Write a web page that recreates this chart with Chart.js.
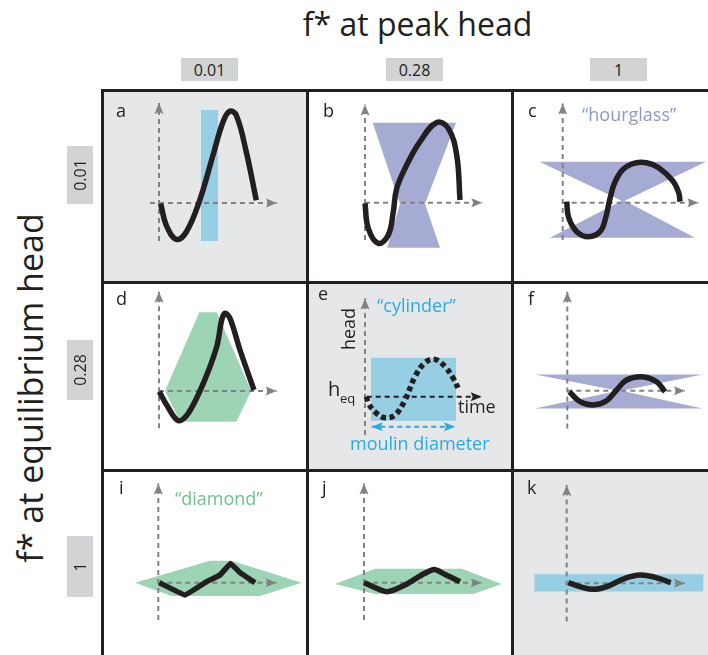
<!DOCTYPE html>
<html>
<head>
<meta charset="utf-8">
<script src="https://cdn.jsdelivr.net/npm/chart.js@4.4.1/dist/chart.umd.min.js"></script>
<style>
html, body { margin: 0; padding: 0; background: #fff; }
body { width: 708px; height: 655px; position: relative; overflow: hidden; font-family: 'Open Sans', sans-serif; color: #231f20; }
.txt { position: absolute; white-space: nowrap; line-height: 1; }
.box { position: absolute; background: #d1d3d4; display: flex; align-items: center; justify-content: center; font-size: 16px; }
.cell { position: absolute; }
.rule { position: absolute; background: #231f20; }
canvas { position: absolute; left: 0; top: 0; }
</style>
</head>
<body>
<script>
// headings
const peakHeadLevels = ['0.01', '0.28', '1'];
const eqHeadLevels = ['0.01', '0.28', '1'];

// head curves: time along x, head along y (origin where the axes cross, 1 unit = 100 px)
const timeA = [0.017, 0.073, 0.173, 0.273, 0.407, 0.54, 0.64, 0.707, 0.773, 0.873, 0.973];
const headA = [-0.007, -0.223, -0.363, -0.29, 0.027, 0.477, 0.81, 0.917, 0.877, 0.51, 0.027];
const timeB = [0, 0.033, 0.133, 0.233, 0.283, 0.317, 0.417, 0.55, 0.717, 0.833, 0.917, 0.95];
const headB = [-0.007, -0.257, -0.407, -0.323, -0.09, 0.143, 0.377, 0.61, 0.803, 0.743, 0.477, 0.027];
const timeC = [0.04, 0.06, 0.14, 0.257, 0.373, 0.43, 0.47, 0.52, 0.6, 0.72, 0.84, 0.96, 1.1, 1.16, 1.173];
const headC = [0.01, -0.15, -0.29, -0.34, -0.29, -0.15, 0.03, 0.2, 0.33, 0.395, 0.4, 0.35, 0.22, 0.1, 0.01];
const timeD = [0.003, 0.077, 0.193, 0.293, 0.443, 0.577, 0.627, 0.66, 0.71, 0.81, 0.95];
const headD = [-0.007, -0.14, -0.297, -0.223, 0.077, 0.443, 0.71, 0.777, 0.727, 0.41, 0.01];
const timeE = [0.017, 0.033, 0.117, 0.2, 0.3, 0.4, 0.5, 0.6, 0.7, 0.8, 0.883, 0.94];
const headE = [0, -0.067, -0.167, -0.21, -0.183, -0.033, 0.2, 0.34, 0.373, 0.3, 0.183, 0.067];
const timeF = [0.02, 0.127, 0.26, 0.393, 0.493, 0.593, 0.743, 0.893, 0.977];
const headF = [-0.01, -0.11, -0.143, -0.1, 0.007, 0.107, 0.14, 0.09, -0.01];
const timeI = [0.01, 0.267, 0.483, 0.617, 0.723, 0.817, 0.967];
const headI = [0, -0.123, 0.01, 0.077, 0.193, 0.1, 0];
const timeJ = [0, 0.227, 0.41, 0.577, 0.703, 0.81, 0.96];
const headJ = [0, -0.09, -0.023, 0.077, 0.133, 0.083, 0.01];
const timeK = [0.017, 0.133, 0.267, 0.4, 0.583, 0.733, 0.883, 1.04];
const headK = [0.007, -0.033, -0.06, -0.033, 0.05, 0.083, 0.06, 0.007];

// moulin wall profiles: [head, left wall, right wall]
const wallA = [[0.93, 0.42, 0.59], [-0.38, 0.42, 0.59]];
const wallB = [[0.80, 0.077, 0.91], [-0.01, 0.35, 0.60], [-0.45, 0.223, 0.75]];
const wallC = [[0.41, -0.233, 1.433], [0.02, 0.59, 0.62], [-0.35, -0.127, 1.323]];
const wallD = [[0.787, 0.403, 0.577], [0, 0.06, 0.923], [-0.307, 0.21, 0.773]];
const wallE = [[0.39, 0.06, 0.91], [-0.24, 0.06, 0.91]];
const wallF = [[0.163, -0.323, 1.353], [0, 0.51, 0.54], [-0.177, -0.323, 1.353]];
const wallI = [[0.22, 0.517, 0.733], [0, -0.233, 1.433], [-0.133, 0.133, 1.017]];
const wallJ = [[0.14, 0.11, 0.977], [-0.013, -0.29, 1.377], [-0.113, 0.11, 1.093]];
const wallK = [[0.09, -0.323, 1.367], [-0.083, -0.323, 1.367]];

// moulin diameter arrow in panel e (head, from, to)
const diameterE = [-0.3, 0.067, 0.9];

// colours
const INK = '#231f20';
const AXIS = '#808285';
const PANEL_GRAY = '#e6e7e8';
const CYL = '#96cee4';
const HOUR = '#a5abd2';
const DIAM = '#9dd4b4';
const CYL_TEXT = '#29abe2';
const HOUR_TEXT = '#8f96c8';
const DIAM_TEXT = '#6cc08f';

// grid
const colX = [102, 307, 512, 708];
const rowY = [90, 282, 470, 655];

const panels = [
  { key: 'a', col: 0, row: 0, bg: PANEL_GRAY, ox: 57, oy: 113, time: timeA, head: headA, wall: wallA, fill: CYL, v: [-0.38, 1.0], h: [-0.09, 1.18], lab: [14, 27], tension: 0.4 },
  { key: 'b', col: 1, row: 0, bg: '#fff', ox: 58, oy: 112.7, time: timeB, head: headB, wall: wallB, fill: HOUR, v: [-0.373, 0.983], h: [0, 1.173], lab: [16, 27], tension: 0.4 },
  { key: 'c', col: 2, row: 0, bg: '#fff', ox: 50.7, oy: 112.7, time: timeC, head: headC, wall: wallC, fill: HOUR, v: [-0.373, 0.993], h: [0, 1.357], lab: [16, 27], tension: 0.4 },
  { key: 'd', col: 0, row: 1, bg: '#fff', ox: 57, oy: 109, time: timeD, head: headD, wall: wallD, fill: DIAM, v: [-0.373, 0.993], h: [0, 1.177], lab: [14, 23], tension: 0.35 },
  { key: 'e', col: 1, row: 1, bg: PANEL_GRAY, ox: 58, oy: 114.7, time: timeE, head: headE, wall: wallE, fill: CYL, v: [-0.383, 0.983], h: [0.017, 1.167], lab: [11, 17.5], tension: 0.4, dotted: true },
  { key: 'f', col: 2, row: 1, bg: '#fff', ox: 55.3, oy: 108.7, time: timeF, head: headF, wall: wallF, fill: HOUR, v: [-0.377, 0.99], h: [0, 1.177], lab: [16, 23], tension: 0.4 },
  { key: 'i', col: 0, row: 2, bg: '#fff', ox: 56.3, oy: 112.7, time: timeI, head: headI, wall: wallI, fill: DIAM, v: [-0.373, 0.993], h: [0, 1.183], lab: [17, 24], tension: 0.05 },
  { key: 'j', col: 1, row: 2, bg: '#fff', ox: 57, oy: 112.7, time: timeJ, head: headJ, wall: wallJ, fill: DIAM, v: [-0.373, 0.993], h: [0, 1.177], lab: [15, 24], tension: 0.25 },
  { key: 'k', col: 2, row: 2, bg: PANEL_GRAY, ox: 54.7, oy: 113.3, time: timeK, head: headK, wall: wallK, fill: CYL, v: [-0.383, 0.983], h: [0, 1.183], lab: [15, 24], tension: 0.4 }
];

// arrow heads on the ends of dashed axis lines
const arrowHeads = {
  id: 'arrowHeads',
  afterDatasetsDraw(chart) {
    const ctx = chart.ctx;
    chart.data.datasets.forEach((ds, i) => {
      if (!ds.arrow) return;
      const pts = chart.getDatasetMeta(i).data;
      const draw = (tip, from) => {
        const ang = Math.atan2(tip.y - from.y, tip.x - from.x);
        ctx.save();
        ctx.translate(tip.x, tip.y);
        ctx.rotate(ang);
        ctx.beginPath();
        ctx.moveTo(0, 0);
        ctx.lineTo(-11, -4.5);
        ctx.lineTo(-9, 0);
        ctx.lineTo(-11, 4.5);
        ctx.closePath();
        ctx.fillStyle = ds.borderColor;
        ctx.fill();
        ctx.restore();
      };
      const n = pts.length;
      draw(pts[n - 1], pts[n - 2]);
      if (ds.arrow === 'both') draw(pts[0], pts[1]);
    });
  }
};

function addText(txt, x, baseline, size, color, extra) {
  const d = document.createElement('div');
  d.className = 'txt';
  d.textContent = txt;
  d.style.fontSize = size + 'px';
  d.style.left = x + 'px';
  d.style.top = (baseline - 0.888 * size) + 'px';
  if (color) d.style.color = color;
  if (extra) Object.assign(d.style, extra);
  document.body.appendChild(d);
  return d;
}

function addRotated(txt, cx, cy, size, color) {
  const d = document.createElement('div');
  d.className = 'txt';
  d.textContent = txt;
  d.style.fontSize = size + 'px';
  d.style.left = cx + 'px';
  d.style.top = cy + 'px';
  d.style.transform = 'translate(-50%, -50%) rotate(-90deg)';
  if (color) d.style.color = color;
  document.body.appendChild(d);
}

function wallPolygon(wall) {
  const pts = wall.map(r => ({ x: r[2], y: r[0] }));
  wall.slice().reverse().forEach(r => pts.push({ x: r[1], y: r[0] }));
  pts.push(pts[0]);
  return pts;
}

panels.forEach(p => {
  const w = colX[p.col + 1] - colX[p.col];
  const h = rowY[p.row + 1] - rowY[p.row];
  const cell = document.createElement('div');
  cell.className = 'cell';
  cell.style.left = colX[p.col] + 'px';
  cell.style.top = rowY[p.row] + 'px';
  cell.style.width = w + 'px';
  cell.style.height = h + 'px';
  cell.style.background = p.bg;
  const cv = document.createElement('canvas');
  cv.width = w;
  cv.height = h;
  cell.appendChild(cv);
  document.body.appendChild(cell);

  const curve = p.time.map((t, i) => ({ x: t, y: p.head[i] }));
  const datasets = [
    {
      data: curve, showLine: true, pointRadius: 0, borderColor: INK,
      borderWidth: 5.5,
      borderDash: p.dotted ? [5, 3.5] : [],
      borderCapStyle: 'butt', borderJoinStyle: 'round',
      tension: p.tension
    },
    {
      data: [{ x: p.h[0], y: 0 }, { x: p.h[1], y: 0 }], showLine: true, pointRadius: 0,
      borderColor: p.key === 'e' ? INK : AXIS, borderWidth: 2, borderDash: [5, 4], arrow: 'end'
    },
    {
      data: [{ x: 0, y: p.v[0] }, { x: 0, y: p.v[1] }], showLine: true, pointRadius: 0,
      borderColor: AXIS, borderWidth: 2, borderDash: [5, 4], arrow: 'end'
    }
  ];
  if (p.key === 'e') {
    datasets.push({
      data: [{ x: diameterE[1], y: diameterE[0] }, { x: diameterE[2], y: diameterE[0] }],
      showLine: true, pointRadius: 0, borderColor: CYL_TEXT, borderWidth: 2, borderDash: [5, 3.5], arrow: 'both'
    });
  }
  datasets.push({
    data: wallPolygon(p.wall), showLine: true, pointRadius: 0, borderWidth: 0,
    borderColor: 'rgba(0,0,0,0)', backgroundColor: p.fill, fill: 'shape', tension: 0
  });

  new Chart(cv, {
    type: 'scatter',
    data: { datasets },
    options: {
      responsive: false,
      animation: false,
      events: [],
      layout: { padding: 0 },
      scales: {
        x: { type: 'linear', display: false, min: -p.ox / 100, max: (w - p.ox) / 100 },
        y: { type: 'linear', display: false, min: -(h - p.oy) / 100, max: p.oy / 100 }
      },
      plugins: { legend: { display: false }, tooltip: { enabled: false } }
    },
    plugins: [arrowHeads]
  });

  addText(p.key, colX[p.col] + p.lab[0], rowY[p.row] + p.lab[1], 18, INK);
});

// grid rules
colX.slice(0, 3).forEach(x => {
  const r = document.createElement('div');
  r.className = 'rule';
  Object.assign(r.style, { left: (x - 1.5) + 'px', top: (rowY[0] - 1.5) + 'px', width: '3px', height: (655 - rowY[0] + 1.5) + 'px' });
  document.body.appendChild(r);
});
rowY.slice(0, 3).forEach(y => {
  const r = document.createElement('div');
  r.className = 'rule';
  Object.assign(r.style, { left: (colX[0] - 1.5) + 'px', top: (y - 1.5) + 'px', width: (708 - colX[0] + 1.5) + 'px', height: '3px' });
  document.body.appendChild(r);
});

// headings
const headBoxX = [181, 386, 590];
peakHeadLevels.forEach((lv, i) => {
  const b = document.createElement('div');
  b.className = 'box';
  Object.assign(b.style, { left: headBoxX[i] + 'px', top: '58px', width: '57px', height: '23px' });
  b.textContent = lv;
  document.body.appendChild(b);
});
const rowBoxY = [[146, 204], [340, 400], [536, 597]];
eqHeadLevels.forEach((lv, i) => {
  const b = document.createElement('div');
  b.className = 'box';
  Object.assign(b.style, { left: '67px', top: rowBoxY[i][0] + 'px', width: '26px', height: (rowBoxY[i][1] - rowBoxY[i][0]) + 'px' });
  const s = document.createElement('span');
  s.textContent = lv;
  s.style.transform = 'rotate(-90deg)';
  s.style.whiteSpace = 'nowrap';
  b.appendChild(s);
  document.body.appendChild(b);
});

addText('f* at peak head', 0, 36, 32, INK, { width: '835px', textAlign: 'center' });
addRotated('f* at equilibrium head', 30, 388, 34, INK);

// in-panel annotations
addText('\u201chourglass\u201d', 582, 121, 18, HOUR_TEXT);
addText('\u201cdiamond\u201d', 175, 505, 18, DIAM_TEXT);
addText('\u201ccylinder\u201d', 377, 311.5, 18, CYL_TEXT);
addText('moulin diameter', 350, 450, 18, CYL_TEXT);
addText('time', 458, 413, 18, INK);
addText('h', 328, 396.5, 20, INK);
addText('eq', 340, 404, 13, INK);
addRotated('head', 347.5, 329, 18, INK);
</script>
</body>
</html>
